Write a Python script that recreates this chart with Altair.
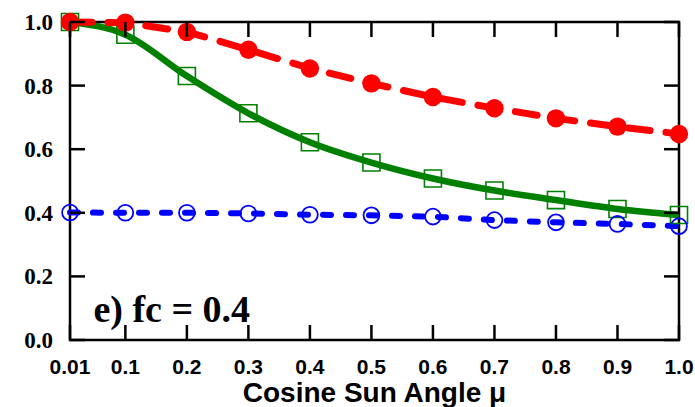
import altair as alt
import pandas as pd

# Cosine of the solar zenith angle
mu = [0.01, 0.1, 0.2, 0.3, 0.4, 0.5, 0.6, 0.7, 0.8, 0.9, 1.0]

# Three curves for the fc = 0.4 case
red_vals = [1.0, 0.998, 0.969, 0.913, 0.854, 0.807, 0.764, 0.729, 0.697, 0.671, 0.648]
green_vals = [1.0, 0.960, 0.830, 0.713, 0.622, 0.558, 0.508, 0.470, 0.440, 0.412, 0.393]
blue_vals = [0.401, 0.400, 0.400, 0.398, 0.394, 0.392, 0.388, 0.377, 0.370, 0.365, 0.358]

x_ticks = [0.01, 0.1, 0.2, 0.3, 0.4, 0.5, 0.6, 0.7, 0.8, 0.9, 1.0]
x_tick_labels = ["0.01", "0.1", "0.2", "0.3", "0.4", "0.5", "0.6", "0.7", "0.8", "0.9", "1.0"]
y_ticks = [0.0, 0.2, 0.4, 0.6, 0.8, 1.0]
y_tick_labels = ["0.0", "0.2", "0.4", "0.6", "0.8", "1.0"]

panel_label = "e) fc = 0.4"
x_title = "Cosine Sun Angle \u03bc"

X_MIN, X_MAX = 0.01, 1.0
Y_MIN, Y_MAX = 0.0, 1.0
WIDTH, HEIGHT = 609, 318
TICK_LEN = 15

red_df = pd.DataFrame({"mu": mu, "value": red_vals})
green_df = pd.DataFrame({"mu": mu, "value": green_vals})
blue_df = pd.DataFrame({"mu": mu, "value": blue_vals})
xt_df = pd.DataFrame({"t": x_ticks, "lab": x_tick_labels})
yt_df = pd.DataFrame({"t": y_ticks, "lab": y_tick_labels})

x_scale = alt.Scale(domain=[X_MIN, X_MAX], nice=False, zero=False)
y_scale = alt.Scale(domain=[Y_MIN, Y_MAX], nice=False, zero=False)

SANS = "Liberation Sans"
SERIF = "Liberation Serif"


def xf(field):
    return alt.X(f"{field}:Q", scale=x_scale, axis=None)


def yf(field):
    return alt.Y(f"{field}:Q", scale=y_scale, axis=None)


def xd(v):
    return alt.X(datum=v, scale=x_scale, axis=None)


def yd(v):
    return alt.Y(datum=v, scale=y_scale, axis=None)


green_line = alt.Chart(green_df).mark_line(
    color="#008000", strokeWidth=6.5, interpolate="monotone"
).encode(x=xf("mu"), y=yf("value"))

blue_line = alt.Chart(blue_df).mark_line(
    color="#0000ff", strokeWidth=6, strokeDash=[8, 15], strokeCap="round"
).encode(x=xf("mu"), y=yf("value"))

red_line = alt.Chart(red_df).mark_line(
    color="#ff0000", strokeWidth=7, strokeDash=[22, 16], strokeCap="round"
).encode(x=xf("mu"), y=yf("value"))

green_pts = alt.Chart(green_df).mark_point(
    shape="square", filled=False, color="#008000", size=290, strokeWidth=1.6, opacity=1
).encode(x=xf("mu"), y=yf("value"))

blue_pts = alt.Chart(blue_df).mark_point(
    shape="circle", filled=False, color="#0000ff", size=250, strokeWidth=1.8, opacity=1
).encode(x=xf("mu"), y=yf("value"))

red_pts = alt.Chart(red_df).mark_point(
    shape="circle", filled=True, color="#ff0000", size=340, opacity=1, strokeWidth=0
).encode(x=xf("mu"), y=yf("value"))

# Inward-pointing ticks: one-sided stroke symbols anchored on each frame edge.
# A path from 0 to 1 is scaled by sqrt(size)/2, so size = (2 * TICK_LEN) ** 2.
TICK_SIZE = (2 * TICK_LEN) ** 2


def tick_symbols(df, path, x_enc, y_enc):
    return alt.Chart(df).mark_point(
        shape=path, filled=False, color="black", strokeWidth=2.5,
        size=TICK_SIZE, opacity=1,
    ).encode(x=x_enc, y=y_enc)


ticks = [
    tick_symbols(xt_df, "M0,0L0,-1", xf("t"), yd(Y_MIN)),
    tick_symbols(xt_df, "M0,0L0,1", xf("t"), yd(Y_MAX)),
    tick_symbols(yt_df, "M0,0L1,0", xd(X_MIN), yf("t")),
    tick_symbols(yt_df, "M0,0L-1,0", xd(X_MAX), yf("t")),
]

# Tick labels and axis title
x_labels = alt.Chart(xt_df).mark_text(
    font=SANS, fontSize=21, fontWeight="bold", color="black",
    align="center", baseline="alphabetic", dy=34,
).encode(x=xf("t"), y=yd(Y_MIN), text="lab:N")

y_labels = alt.Chart(yt_df).mark_text(
    font=SERIF, fontSize=23, fontWeight="bold", color="black",
    align="right", baseline="middle", dx=-17, dy=1,
).encode(x=xd(X_MIN), y=yf("t"), text="lab:N")

title = alt.Chart().mark_text(
    text=x_title, font=SANS, fontSize=28, fontWeight="bold", color="black",
    align="center", baseline="alphabetic", dy=61.5,
).encode(x=xd((X_MIN + X_MAX) / 2), y=yd(Y_MIN))

label = alt.Chart().mark_text(
    text=panel_label, font=SERIF, fontSize=38, fontWeight="bold", color="black",
    align="left", baseline="alphabetic",
).encode(x=xd(0.048), y=yd(0.058))

chart = alt.layer(
    green_line, blue_line, red_line, green_pts, blue_pts, red_pts, *ticks,
    x_labels, y_labels, title, label
).properties(
    width=WIDTH, height=HEIGHT,
    autosize=alt.AutoSizeParams(type="none"),
    padding={"left": 70, "top": 22, "right": 16, "bottom": 67},
    background="white",
).configure_view(
    stroke="black", strokeWidth=2.5
)

chart.save("out.html", embed_options={"renderer": "svg", "actions": False})
